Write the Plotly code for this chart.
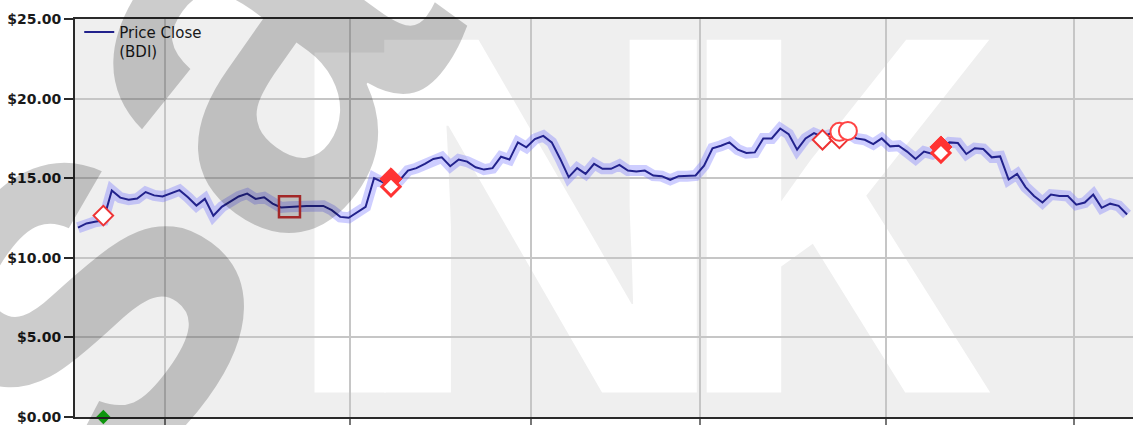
import plotly.graph_objects as go

# ---- data -------------------------------------------------------------
close = [11.89, 12.16, 12.26, 12.35, 14.23, 13.78, 13.65, 13.72, 14.13, 13.92,
         13.85, 14.03, 14.25, 13.80, 13.28, 13.70, 12.64, 13.20, 13.55, 13.85,
         14.03, 13.70, 13.80, 13.40, 13.16, 13.20, 13.22, 13.26, 13.26, 13.26,
         12.99, 12.57, 12.51, 12.84, 13.20, 15.01, 14.76, 14.44, 14.86, 15.48,
         15.63, 15.90, 16.21, 16.31, 15.75, 16.17, 16.04, 15.69, 15.54, 15.63,
         16.35, 16.17, 17.25, 16.94, 17.46, 17.66, 17.25, 16.21, 15.07, 15.63,
         15.27, 15.90, 15.59, 15.59, 15.84, 15.48, 15.42, 15.48, 15.17, 15.13,
         14.90, 15.13, 15.13, 15.17, 15.79, 16.88, 17.04, 17.25, 16.79, 16.58,
         16.62, 17.50, 17.50, 18.12, 17.77, 16.79, 17.50, 17.83, 17.60, 17.83,
         17.90, 17.85, 17.50, 17.41, 17.14, 17.50, 17.00, 17.04, 16.67, 16.21,
         16.67, 16.52, 16.79, 17.25, 17.21, 16.52, 16.88, 16.83, 16.31, 16.37,
         14.92, 15.27, 14.44, 13.88, 13.47, 13.97, 13.88, 13.88, 13.34, 13.47,
         13.97, 13.14, 13.40, 13.26, 12.72]
days = list(range(len(close)))

green_idx, green_val = [3], [0.0]
thin_diamond_idx, thin_diamond_val = [3, 88, 90], [12.65, 17.41, 17.50]
square_idx, square_val = [25], [13.20]
solid_diamond_idx, solid_diamond_val = [37, 102], [14.96, 16.96]
white_diamond_idx, white_diamond_val = [37, 102], [14.46, 16.58]
circle_idx, circle_val = [90, 91], [17.91, 17.97]

month_ticks = [10.3, 32.2, 53.5, 73.5, 95.5, 117.7]
price_ticks = [0, 5, 10, 15, 20, 25]

watermark_letters = ["I", "N", "K"]

# ---- figure -----------------------------------------------------------
fig = go.Figure()

# watermark letters on the lower subplot (below the grid of the data subplot)
fig.add_trace(go.Scatter(
    x=[0.26, 0.44, 0.71], y=[0.372, 0.372, 0.372], mode="text",
    text=watermark_letters,
    textfont=dict(family=["Liberation Sans", "Noto Sans", "Noto Sans"],
                  size=494, color="white", weight=700),
    textposition="middle center", showlegend=False, hoverinfo="skip",
    xaxis="x", yaxis="y", cliponaxis=False))

fig.add_trace(go.Scatter(
    x=days, y=close, mode="lines", line=dict(color="rgba(110,110,255,0.34)", width=11),
    showlegend=False, hoverinfo="skip", xaxis="x2", yaxis="y2"))
fig.add_trace(go.Scatter(
    x=days, y=close, mode="lines", line=dict(color="#22228c", width=2),
    name="Price Close<br>(BDI)", xaxis="x2", yaxis="y2"))

fig.add_trace(go.Scatter(
    x=thin_diamond_idx, y=thin_diamond_val, mode="markers", showlegend=False,
    marker=dict(symbol="diamond", size=15, color="white", line=dict(color="#ee3333", width=2)),
    xaxis="x2", yaxis="y2"))
fig.add_trace(go.Scatter(
    x=square_idx, y=square_val, mode="markers", showlegend=False,
    marker=dict(symbol="square-open", size=21, color="#cc3333", line=dict(width=2.5)),
    xaxis="x2", yaxis="y2"))
fig.add_trace(go.Scatter(
    x=solid_diamond_idx, y=solid_diamond_val, mode="markers", showlegend=False,
    marker=dict(symbol="diamond", size=17, color="#ff3333", line=dict(color="#ff3333", width=1)),
    xaxis="x2", yaxis="y2"))
fig.add_trace(go.Scatter(
    x=white_diamond_idx, y=white_diamond_val, mode="markers", showlegend=False,
    marker=dict(symbol="diamond", size=14, color="white", line=dict(color="#ff3333", width=3)),
    xaxis="x2", yaxis="y2"))
fig.add_trace(go.Scatter(
    x=circle_idx, y=circle_val, mode="markers", showlegend=False,
    marker=dict(symbol="circle", size=18, color="white", line=dict(color="#ff4444", width=2)),
    xaxis="x2", yaxis="y2"))
fig.add_trace(go.Scatter(
    x=green_idx, y=green_val, mode="markers", showlegend=False, cliponaxis=False,
    marker=dict(symbol="diamond", size=11, color="#11bb11", line=dict(width=0)),
    xaxis="x2", yaxis="y2"))

axis_line = "#2a2a2a"
fig.update_layout(
    autosize=False, width=1133, height=425,
    margin=dict(l=75, r=0, t=19, b=5, pad=0),
    paper_bgcolor="white",
    plot_bgcolor="rgba(0,0,0,0)",
    font=dict(family="DejaVu Sans", color="#222222"),
    xaxis=dict(domain=[0, 1], range=[0, 1], visible=False, fixedrange=True),
    yaxis=dict(domain=[0, 1], range=[0, 1], visible=False, fixedrange=True),
    xaxis2=dict(domain=[0, 1], anchor="y2", range=[-0.35, 124.7],
                tickmode="array", tickvals=month_ticks, showticklabels=False,
                ticks="outside", ticklen=6, tickwidth=2, tickcolor="#777777",
                showgrid=True, gridcolor="#c6c6c6", gridwidth=2,
                showline=True, linecolor=axis_line, linewidth=2, mirror=True,
                zeroline=False),
    yaxis2=dict(domain=[0, 1], anchor="x2", range=[0, 25],
                tickmode="array", tickvals=price_ticks, tickformat="$.2f",
                ticklabeloverflow="allow",
                ticks="outside", ticklen=9, tickwidth=2, tickcolor=axis_line,
                tickfont=dict(family="DejaVu Sans", size=14, color="#1a1a1a", weight="bold"),
                showgrid=True, gridcolor="#c6c6c6", gridwidth=2,
                showline=True, linecolor=axis_line, linewidth=2,
                zeroline=False),
    legend=dict(x=0.004, y=1.008, xanchor="left", yanchor="top", bgcolor="rgba(0,0,0,0)",
                font=dict(family="DejaVu Sans", size=15, color="#1a1a1a"),
                valign="top", itemwidth=30, tracegroupgap=0),
    shapes=[dict(type="rect", xref="x", yref="y", x0=0, x1=1, y0=0, y1=1,
                 layer="below", fillcolor="#efefef", line=dict(width=0))],
    annotations=[dict(text="sa", xref="paper", yref="paper", x=0.062, y=0.64,
                      xanchor="center", yanchor="middle", showarrow=False,
                      textangle=-54,
                      font=dict(family="Liberation Sans", size=540, color="rgba(0,0,0,0.2)",
                                weight="bold"))],
)

fig.write_html(
    "out.html",
    config={"displayModeBar": False},
    post_script=("document.documentElement.style.overflow='hidden';"
                 "document.body.style.margin='0';"
                 "document.body.style.overflow='hidden';"))
